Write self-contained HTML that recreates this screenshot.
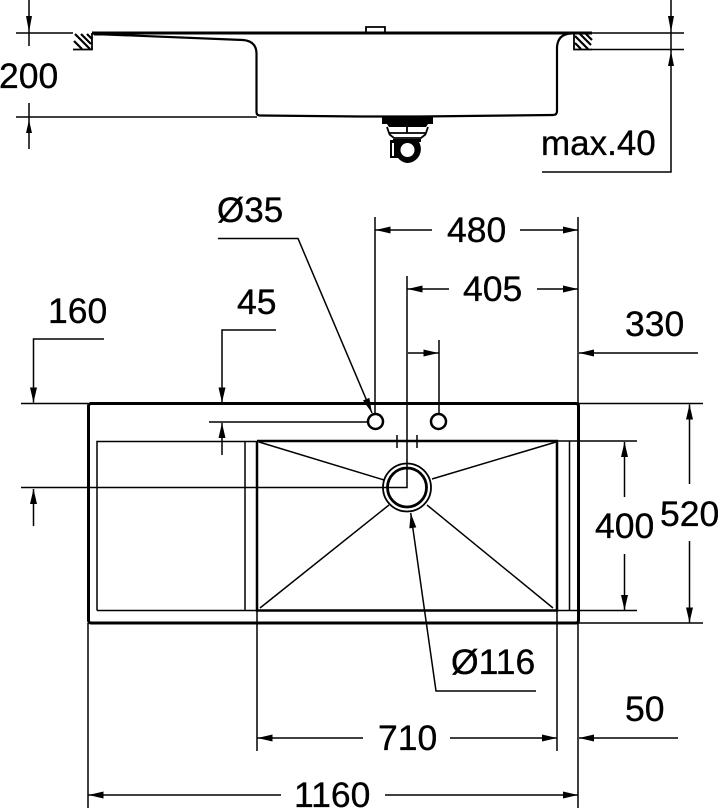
<!DOCTYPE html>
<html>
<head>
<meta charset="utf-8">
<style>
html,body{margin:0;padding:0;background:#fff}
svg{display:block}
text{font-family:"Liberation Sans",Arial,sans-serif;font-size:35.5px;fill:#000;stroke:#000;stroke-width:.35}
.t{stroke:#000;stroke-width:1.5;fill:none}
.h{stroke:#000;stroke-width:2.2;fill:none}
.k{stroke:#000;stroke-width:3;fill:none}
.a{stroke:#000;stroke-width:1.5;fill:none;marker-end:url(#ar)}
</style>
</head>
<body>
<svg width="718" height="809" viewBox="0 0 718 809" xmlns="http://www.w3.org/2000/svg">
<defs>
<marker id="ar" markerUnits="userSpaceOnUse" markerWidth="18" markerHeight="10" refX="16" refY="5" orient="auto" viewBox="0 0 18 10">
<path d="M1,1.500 L16,5 L1,8.500 Z" fill="#000"/>
</marker>
</defs>

<!-- Side view -->
<path class="k" d="M92,33 H592"/>
<path d="M92,32 L122,32 L122,35.500 L94,35.500 Z" fill="#000"/>
<path class="k" style="stroke-width:2.2" d="M94,34 L243,40 Q256,41 256.500,53 V112 Q256.500,115.500 260,115.500 L360,116.500 H420 L553,115 Q557,115 557,111 V47 Q558,34 571,33.500"/>
<path class="t" d="M16,33 H73 M16,117 H257"/>
<path class="t" d="M29,0 V46 M29,103 V149"/>
<path d="M26,16 H32 L29,32 Z M26,133 H32 L29,120 Z" fill="#000"/>
<path class="k" style="stroke-width:1.8" d="M73,49.500 H92 V33"/>
<path class="h" d="M75,34 L90,49 M81,34 L91,44 M87,34 L92,39 M74,41 L82,49"/>
<path class="k" style="stroke-width:1.8" d="M574,33 V49.500 H592"/>
<path class="h" d="M575,36 L588,49 M580,34 L591,45 M586,34 L592,40 M575,43 L581,49"/>
<path class="t" d="M592,33 H684 M592,49.500 H684"/>
<path class="t" d="M671,0 V172 H542"/>
<path d="M668,16 H674 L671,32 Z M668,66 H674 L671,51 Z" fill="#000"/>
<path class="t" style="stroke-width:1.8" d="M366,32 V27 H385 V32"/>

<!-- Drain -->
<path d="M382,116 H433 V124 H428 L426,127 H389 L387,124 H382 Z" fill="#000"/>
<path class="k" style="stroke-width:1.8" d="M387,127 L389,133 H426 L428,127 M389,134 L394,138 H421 L426,134 M407,127 V133"/>
<path d="M393,139 H421 V142 H419 A14,14 0 0 1 407,163 A14,14 0 0 1 398,158 H390 V140 H393 Z" fill="#000"/>
<rect x="392" y="143" width="2" height="13" fill="#fff"/>
<circle cx="407.500" cy="150" r="7" fill="#fff"/>

<!-- Plan view -->
<rect class="k" x="88.500" y="403.500" width="490" height="219.500" rx="2.500"/>
<path class="t" d="M97,610.500 V441.500 H257 M245,441.500 V610.500 M97,610.500 H257"/>
<path class="t" d="M569.500,441.500 V610.500"/>
<path class="k" d="M257,441 V610.500 H557 V441 H257" style="stroke-width:2.500"/>
<path class="t" d="M557,441 H637 M557,610.500 H637 M578,403.500 H703 M578,623 H703 M21,403.500 H88"/>
<path class="t" d="M209,422 H368 M21,487.500 H407 V276"/>
<path class="t" d="M397,435 V448 M417,435 V448"/>
<path class="t" d="M259,442 L384,480 M556,442 L432,479 M260,608 L389,505 M553,608 L427,505"/>
<circle cx="407" cy="487.500" r="24" fill="none" stroke="#000" stroke-width="1.8"/>
<circle cx="407" cy="487.500" r="19.500" fill="none" stroke="#000" stroke-width="2.800"/>
<circle cx="375.500" cy="421.500" r="7.500" fill="#fff" stroke="#000" stroke-width="2.500"/>
<circle cx="438.500" cy="421.500" r="7.500" fill="#fff" stroke="#000" stroke-width="2.500"/>

<!-- Extension lines -->
<path class="t" d="M375,217 V414 M578,217 V403 M439,340 V414 M88,623 V808 M257,611 V751 M557,611 V751 M578,623 V808"/>

<!-- Dimension arrows -->
<path class="a" d="M432,230 H375.500"/>
<path class="a" d="M520,230 H578"/>
<path class="a" d="M449,289 H407.500"/>
<path class="a" d="M537,289 H578"/>
<path class="a" d="M408,353 H438.500"/>
<path class="a" d="M698,353 H579"/>
<path class="a" d="M218,238.500 H298 L372,413"/>
<path class="a" d="M104,339 H33.500 V402.500"/>
<path class="a" d="M276,330 H222 V402.500"/>
<path class="a" d="M222,455 V423"/>
<path class="a" d="M33.500,526 V489"/>
<path class="a" d="M689.500,484 V404.500"/>
<path class="a" d="M689.500,541 V622.500"/>
<path class="a" d="M624.500,497 V442"/>
<path class="a" d="M624.500,554 V610"/>
<path class="a" d="M536,691 H436 L410.700,513"/>
<path class="a" d="M363,738 H257.500"/>
<path class="a" d="M450,738 H557"/>
<path class="a" d="M678,738 H579"/>
<path class="a" d="M281,795 H88.500"/>
<path class="a" d="M385,795 H578"/>

<!-- Labels -->
<text x="-1" y="88">200</text>
<text x="541" y="155" style="font-size:35px">max.40</text>
<text x="217" y="222" style="font-size:35px">Ø35</text>
<text x="447" y="242">480</text>
<text x="463" y="301">405</text>
<text x="48" y="323">160</text>
<text x="237" y="314">45</text>
<text x="625" y="336">330</text>
<text x="595" y="538">400</text>
<text x="660" y="526">520</text>
<text x="451" y="674">Ø116</text>
<text x="625" y="721">50</text>
<text x="378" y="750">710</text>
<text x="294" y="807">1160</text>
</svg>
</body>
</html>
